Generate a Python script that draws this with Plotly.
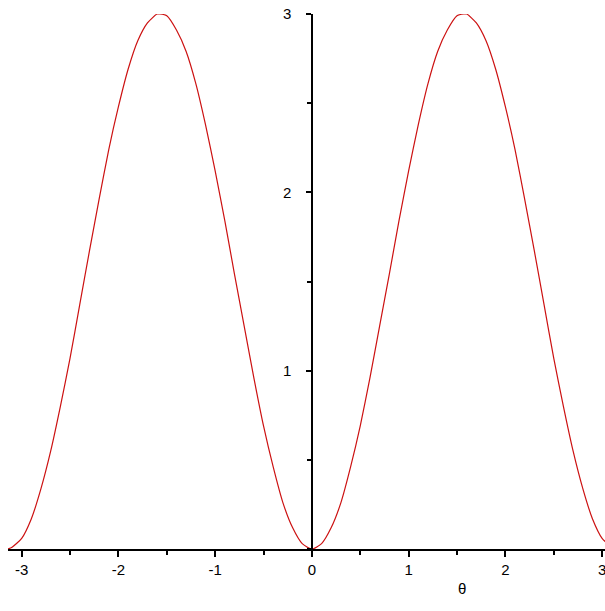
import plotly.graph_objects as go

# theta values and curve values
theta = [
    -3.1416, -3.1, -3.0, -2.9, -2.8, -2.7, -2.6, -2.5, -2.4, -2.3, -2.2, -2.1,
    -2.0, -1.9, -1.8, -1.7, -1.6, -1.5708, -1.5, -1.4, -1.3, -1.2, -1.1, -1.0,
    -0.9, -0.8, -0.7, -0.6, -0.5, -0.4, -0.3, -0.2, -0.1, 0.0,
    0.1, 0.2, 0.3, 0.4, 0.5, 0.6, 0.7, 0.8, 0.9, 1.0, 1.1, 1.2, 1.3, 1.4,
    1.5, 1.5708, 1.6, 1.7, 1.8, 1.9, 2.0, 2.1, 2.2, 2.3, 2.4, 2.5, 2.6, 2.7,
    2.8, 2.9, 3.0, 3.1, 3.1416,
]
r_vals = [
    0.0, 0.01, 0.06, 0.17, 0.34, 0.55, 0.80, 1.07, 1.37, 1.67, 1.96, 2.24,
    2.48, 2.69, 2.85, 2.95, 3.00, 3.00, 2.99, 2.91, 2.79, 2.61, 2.38, 2.12,
    1.84, 1.54, 1.25, 0.96, 0.69, 0.46, 0.26, 0.12, 0.03, 0.0,
    0.03, 0.12, 0.26, 0.46, 0.69, 0.96, 1.25, 1.54, 1.84, 2.12, 2.38, 2.61, 2.79, 2.91,
    2.99, 3.00, 3.00, 2.95, 2.85, 2.69, 2.48, 2.24, 1.96, 1.67, 1.37, 1.07, 0.80, 0.55,
    0.34, 0.17, 0.06, 0.01, 0.0,
]

x_ticks = [-3, -2, -1, 0, 1, 2, 3]
x_tick_labels = ["-3", "-2", "-1", "0", "1", "2", "3"]
y_ticks = [1, 2, 3]
y_tick_labels = ["1", "2", "3"]

FONT = dict(family="Liberation Sans", size=15, color="black")

fig = go.Figure(
    go.Scatter(
        x=theta, y=r_vals, mode="lines",
        line=dict(color="#cc1111", width=1.2, shape="spline", smoothing=0.6),
        cliponaxis=True, hoverinfo="skip",
    )
)

fig.update_xaxes(
    range=[-3.1416, 3.03], showgrid=False, zeroline=False, automargin=False,
    showline=True, linecolor="black", linewidth=1.5,
    tickvals=x_ticks, ticktext=x_tick_labels, ticklabeloverflow="allow",
    ticks="outside", ticklen=6, tickcolor="black", tickwidth=1.5,
    minor=dict(dtick=0.5, tick0=0, ticks="outside", ticklen=4,
               tickcolor="black", tickwidth=1.5, showgrid=False),
    tickfont=FONT,
)
fig.update_yaxes(
    range=[0, 3], showgrid=False, zeroline=False, automargin=False,
    anchor="free", position=(312 - 8) / 597, side="left",
    showline=True, linecolor="black", linewidth=1.5,
    tickvals=y_ticks, ticktext=y_tick_labels, ticklabeloverflow="allow",
    ticks="outside", ticklen=5, tickcolor="black", tickwidth=1.5,
    ticklabelstandoff=12,
    minor=dict(dtick=0.5, tick0=0, ticks="outside", ticklen=4,
               tickcolor="black", tickwidth=1.5, showgrid=False),
    tickfont=FONT,
)

fig.add_annotation(
    x=1.55, xref="x", y=-50 / 535, yref="paper",
    text="θ", showarrow=False, font=FONT,
)

fig.update_layout(
    width=605, height=611,
    margin=dict(l=8, r=0, t=14, b=62),
    plot_bgcolor="white", paper_bgcolor="white",
    showlegend=False,
)

# drop the default body margin so the figure fills the window exactly
fig.write_html(
    "out.html",
    config={"displayModeBar": False},
    post_script="document.body.style.margin='0';document.body.style.overflow='hidden';",
)
